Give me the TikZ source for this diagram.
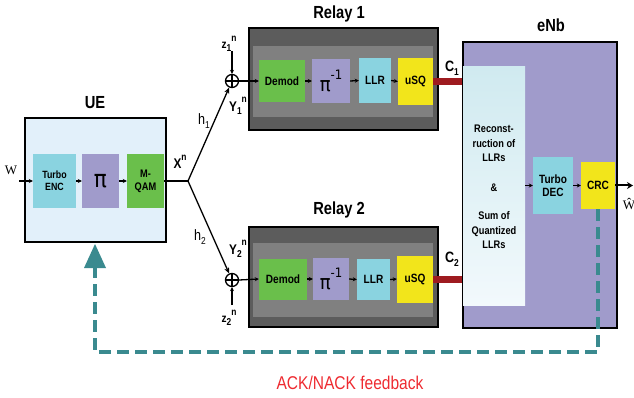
\documentclass[tikz,border=0pt]{standalone}
\usepackage{fontspec}
\setmainfont{Liberation Sans}[FakeStretch=0.84]
\newfontfamily\serifW{Liberation Serif}
\newfontfamily\pifont{DejaVu Sans}[FakeStretch=0.9]
\usetikzlibrary{arrows.meta,calc}
\definecolor{uefill}{HTML}{E2F0FA}
\definecolor{cyanbox}{HTML}{8AD3E0}
\definecolor{lavbox}{HTML}{A09BCB}
\definecolor{greenbox}{HTML}{6ABF4B}
\definecolor{yellowbox}{HTML}{F2E51B}
\definecolor{relayout}{HTML}{5C5C5C}
\definecolor{relayin}{HTML}{808080}
\definecolor{linkred}{HTML}{9E1B20}
\definecolor{fbteal}{HTML}{3A8A8F}
\definecolor{fbtext}{HTML}{EE2A30}
\definecolor{recontop}{HTML}{D0EAF0}
\definecolor{reconbot}{HTML}{F2F9FC}
\newcommand\supsub[3]{#1\raisebox{-0.45ex}{\fontsize{10}{10}\selectfont#2}\raisebox{1.1ex}{\fontsize{10}{10}\selectfont#3}}
\tikzset{
  blk/.style={draw=none, minimum width=#1, inner sep=0pt},
  frame/.style={draw=black, line width=1.6pt, inner sep=0pt},
  boxtext/.style={font=\bfseries\fontsize{12}{13}\selectfont, align=center},
  title/.style={font=\bfseries\fontsize{17.5}{18}\selectfont},
  flow/.style={-{Stealth[length=4pt,width=4pt]}, line width=1.3pt},
  sumnode/.style={circle, draw=black, line width=1.3pt, minimum size=13pt, inner sep=0pt,
    path picture={\draw[line width=1.1pt] (path picture bounding box.north) -- (path picture bounding box.south)
      (path picture bounding box.west) -- (path picture bounding box.east);}},
  link/.style={line width=7pt, linkred},
  fb/.style={line width=4pt, fbteal, dash pattern=on 12pt off 6pt},
  sym/.style={font=\bfseries\fontsize{14}{14}\selectfont, inner sep=0pt},
}
\begin{document}
\begin{tikzpicture}[x=1pt,y=-1pt]
\useasboundingbox (0,0) rectangle (634,398);

% ---------------- UE ----------------
\node[frame, fill=uefill, minimum width=141pt, minimum height=124pt] (ue) at (95.5,180) {};
\node[title] (uelab) at (95,103) {UE};
\node[boxtext, fill=cyanbox, minimum width=43pt, minimum height=54pt, font=\bfseries\fontsize{10.5}{12}\selectfont] (enc) at (54.5,181) {Turbo\\ENC};
\node[boxtext, fill=lavbox, minimum width=37pt, minimum height=54pt, font=\pifont\fontsize{24}{24}\selectfont] (pi) at (100.5,181) {π};
\node[boxtext, fill=greenbox, minimum width=37pt, minimum height=54pt, font=\bfseries\fontsize{11}{13}\selectfont] (qam) at (145.5,181) {M-\\QAM};
\node[font=\serifW\fontsize{13}{13}\selectfont, inner sep=0pt] (w) at (11,170) {W};
\coordinate (win) at (19,181);
\draw[flow] (win) -- (enc.west);
\draw[flow] (enc.east) -- (pi.west);
\draw[flow] (pi.east) -- (qam.west);

% ---------------- broadcast ----------------
\coordinate (fork) at (188,181);
\draw[line width=2.2pt] (qam.east) -- (fork);
\node[sym] (xn) at (180,162) {X\raisebox{1ex}{\fontsize{10}{10}\selectfont n}};
\node[sumnode] (s1) at (232,81) {};
\node[sumnode] (s2) at (232,280) {};
\draw[-{Stealth[length=6pt,width=5pt]}, line width=1.3pt] (fork) -- (s1);
\draw[-{Stealth[length=6pt,width=5pt]}, line width=1.3pt] (fork) -- (s2);
\node[font=\fontsize{15}{15}\selectfont, inner sep=0pt] (h1) at (204,121) {\supsub{h}{1}{}};
\node[font=\fontsize{15}{15}\selectfont, inner sep=0pt] (h2) at (200,237) {\supsub{h}{2}{}};

% ---------------- Relay 1 ----------------
\node[frame, fill=relayout, minimum width=189pt, minimum height=102pt] (r1) at (343.5,79) {};
\node[fill=relayin, minimum width=180pt, minimum height=71pt, inner sep=0pt] (r1in) at (343,81.5) {};
\node[title] (r1lab) at (339,14) {Relay 1};
\node[boxtext, fill=greenbox, minimum width=46pt, minimum height=42pt] (dm1) at (282,81) {Demod};
\node[boxtext, fill=lavbox, minimum width=38pt, minimum height=44pt, font=\pifont\fontsize{20}{20}\selectfont] (pv1) at (331,81) {π\raisebox{1.1ex}{\fontsize{13}{13}\selectfont-1}};
\node[boxtext, fill=cyanbox, minimum width=32pt, minimum height=45pt] (ll1) at (375,80.5) {LLR};
\node[boxtext, fill=yellowbox, minimum width=35pt, minimum height=47pt] (uq1) at (415.5,81.5) {uSQ};
\draw[flow] (s1.east) -- (dm1.west);
\draw[flow] (dm1.east) -- (pv1.west);
\draw[flow] (pv1.east) -- (ll1.west);
\draw[flow] (ll1.east) -- (uq1.west);
\node[sym, font=\bfseries\fontsize{12}{12}\selectfont] (z1) at (229,44) {\supsub{z}{1}{n}};
\coordinate (z1a) at (232,51);
\draw[flow] (z1a) -- (s1.north);
\node[sym] (y1) at (238,106) {\supsub{Y}{1}{n}};

% ---------------- Relay 2 ----------------
\node[frame, fill=relayout, minimum width=189pt, minimum height=100pt] (r2) at (343.5,277) {};
\node[fill=relayin, minimum width=180pt, minimum height=74pt, inner sep=0pt] (r2in) at (343,280) {};
\node[title] (r2lab) at (339,210) {Relay 2};
\node[boxtext, fill=greenbox, minimum width=48pt, minimum height=41pt] (dm2) at (283,279) {Demod};
\node[boxtext, fill=lavbox, minimum width=36pt, minimum height=42pt, font=\pifont\fontsize{20}{20}\selectfont] (pv2) at (331,279) {π\raisebox{1.1ex}{\fontsize{13}{13}\selectfont-1}};
\node[boxtext, fill=cyanbox, minimum width=33pt, minimum height=41pt] (ll2) at (373.5,279.5) {LLR};
\node[boxtext, fill=yellowbox, minimum width=36pt, minimum height=47pt] (uq2) at (415,279) {uSQ};
\draw[flow] (s2.east) -- (dm2.west);
\draw[flow] (dm2.east) -- (pv2.west);
\draw[flow] (pv2.east) -- (ll2.west);
\draw[flow] (ll2.east) -- (uq2.west);
\node[sym, font=\bfseries\fontsize{12}{12}\selectfont] (z2) at (229,318) {\supsub{z}{2}{n}};
\coordinate (z2a) at (232,305);
\draw[flow] (z2a) -- (s2.south);
\node[sym] (y2) at (238,249) {\supsub{Y}{2}{n}};

% ---------------- eNb ----------------
\node[frame, fill=lavbox, minimum width=154pt, minimum height=286pt] (enb) at (540,185) {};
\node[title] (enblab) at (551,25) {eNb};
\node[top color=recontop, bottom color=reconbot, minimum width=62pt, minimum height=238pt, inner sep=0pt] (rec) at (494,186) {};
\node[boxtext, font=\bfseries\fontsize{11}{14.5}\selectfont] (rectext) at (494,187)
  {Reconst-\\ruction of\\LLRs\\[15pt]\&\\[14pt]Sum of\\Quantized\\LLRs};
\node[boxtext, fill=cyanbox, minimum width=40pt, minimum height=57pt] (td) at (553,185.5) {Turbo\\DEC};
\node[boxtext, fill=yellowbox, minimum width=34pt, minimum height=47pt] (crc) at (598,185.5) {CRC};
\coordinate (wout) at (633,185.5);
\draw[flow] (rec.east |- td.west) -- (td.west);
\draw[flow] (td.east) -- (crc.west);
\draw[-{Stealth[length=6pt,width=7pt]}, line width=2pt] (crc.east) -- (wout);
\node[font=\serifW\fontsize{13}{13}\selectfont, inner sep=0pt] (what) at (629,204) {Ŵ};

% relay-to-eNb links
\draw[link] (uq1.east) -- (uq1.east -| enb.west);
\draw[link] (uq2.east) -- (uq2.east -| enb.west);
\node[sym, font=\bfseries\fontsize{15}{15}\selectfont] (c1) at (452,68) {\supsub{C}{1}{}};
\node[sym, font=\bfseries\fontsize{15}{15}\selectfont] (c2) at (452,259) {\supsub{C}{2}{}};

% ---------------- feedback ----------------
\coordinate (fbr) at (598,352);
\coordinate (fbl) at (95,352);
\coordinate (fbtip) at (95,244);
\draw[fb] (crc.south) -- (fbr) -- (fbl) -- (95,268);
\fill[fbteal] (fbtip) -- (84,268) -- (106,268) -- cycle;
\node[font=\fontsize{18.5}{19}\selectfont, text=fbtext] (fblabel) at (350,383) {ACK/NACK feedback};
\end{tikzpicture}
\end{document}
